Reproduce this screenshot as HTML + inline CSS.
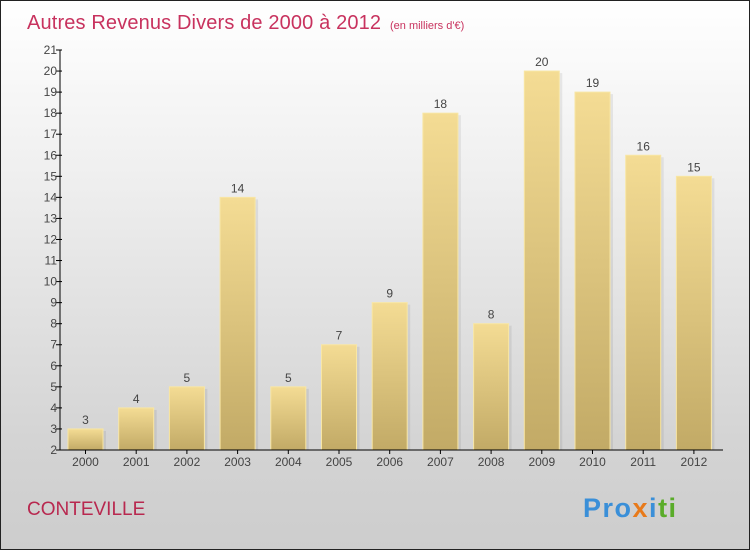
<!DOCTYPE html>
<html><head><meta charset="utf-8"><style>
body{margin:0}
#wrap{position:relative;width:748px;height:548px;border:1px solid #222;background:linear-gradient(#ffffff,#f0f0f0 30%,#d4d4d4 80%,#cdcdcd);font-family:"Liberation Sans",sans-serif;overflow:hidden}
</style></head><body>
<div id="wrap">
<svg id="chart" width="748" height="548">
<defs>
<linearGradient id="bg" x1="0" y1="0" x2="0" y2="1"><stop offset="0" stop-color="#f4dc94"/><stop offset="1" stop-color="#c2aa66"/></linearGradient>
</defs>
<text x="26" y="28" font-size="20" fill="#c8325e" textLength="354">Autres Revenus Divers de 2000 à 2012</text>
<text x="389" y="28" font-size="11" fill="#c8325e">(en milliers d'€)</text>
<text x="26" y="514" font-size="19" fill="#b8284f">CONTEVILLE</text>
<text x="582" y="516" font-size="27" font-weight="bold" letter-spacing="1.5"><tspan fill="#3a8fd8">Pro</tspan><tspan fill="#e87a1a">x</tspan><tspan fill="#3a8fd8">i</tspan><tspan fill="#5aac2a">ti</tspan></text>
<g id="plot"></g>
</svg>
</div>
<script>
const categories=["2000","2001","2002","2003","2004","2005","2006","2007","2008","2009","2010","2011","2012"];
const values=[3,4,5,14,5,7,9,18,8,20,19,16,15];
const yTicks=[2,3,4,5,6,7,8,9,10,11,12,13,14,15,16,17,18,19,20,21];
const NS="http://www.w3.org/2000/svg";
const g=document.getElementById('plot');
const yMin=2,yMax=21,yTop=49,yBot=449;
const y=v=>yBot-(v-yMin)/(yMax-yMin)*(yBot-yTop);
const x0=59,step=50.7,bw=35;
const xc=i=>x0+25.5+i*step;
function mk(t,a){const e=document.createElementNS(NS,t);for(const k in a)e.setAttribute(k,a[k]);g.appendChild(e);return e;}
let e;
values.forEach((v,i)=>{
 e=mk('rect',{x:xc(i)-bw/2+3,y:y(v)+2,width:bw,height:y(yMin)-y(v)-2,fill:'#000',opacity:0.07});
 
 e=mk('rect',{x:xc(i)-bw/2,y:y(v),width:bw,height:y(yMin)-y(v),fill:'url(#bg)',stroke:'#f8e6a4','stroke-width':1});
 
 e=mk('text',{x:xc(i),y:y(v)-5,'text-anchor':'middle','font-size':12,fill:'#444'});e.textContent=v;
 
 e=mk('line',{x1:xc(i),x2:xc(i),y1:yBot,y2:yBot+4,stroke:'#000'});
 
 e=mk('text',{x:xc(i),y:yBot+16,'text-anchor':'middle','font-size':12,fill:'#444'});e.textContent=categories[i];
 
});
yTicks.forEach(t=>{
 e=mk('line',{x1:x0-4,x2:x0+2,y1:y(t),y2:y(t),stroke:'#000'});
 
 e=mk('text',{x:x0-3,y:y(t)+4,'text-anchor':'end','font-size':12,fill:'#444'});e.textContent=t;
 
});
e=mk('line',{x1:x0,x2:x0,y1:yTop,y2:yBot,stroke:'#000'});

e=mk('line',{x1:x0,x2:722,y1:yBot,y2:yBot,stroke:'#000'});

</script>
</body></html>
